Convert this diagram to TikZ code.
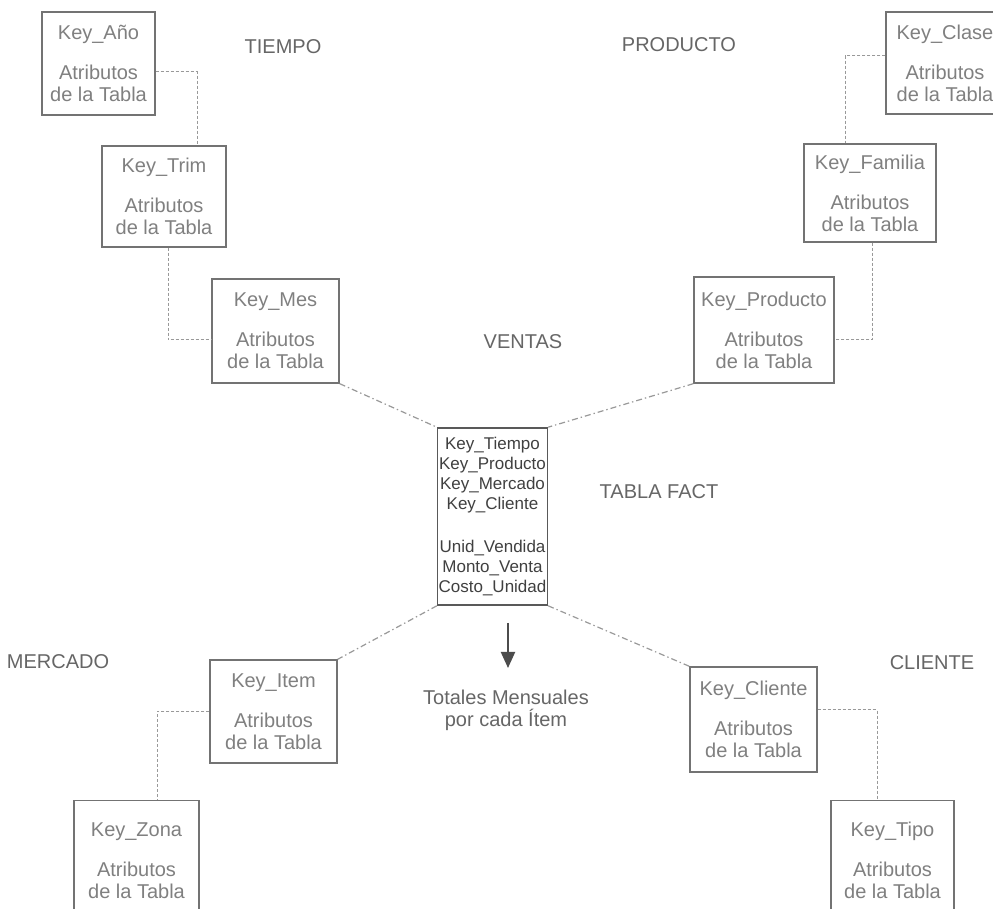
\documentclass[tikz,border=0pt]{standalone}
\usepackage{fontspec}
\setmainfont{Liberation Sans}
\usetikzlibrary{arrows.meta}

\begin{document}
\begin{tikzpicture}[
		x=0.5pt, y=-0.5pt,
		dimtab/.style={draw=black!55, line width=0.7pt, text=black!50, align=center,
				font=\fontsize{10}{11}\selectfont, minimum height=51.5pt, inner sep=1pt},
		facttab/.style={draw=black!65, line width=0.8pt, text=black!75, align=center,
				font=\fontsize{8.5}{10}\selectfont, minimum width=54.5pt, minimum height=88.5pt, inner sep=0.5pt},
		etiqueta/.style={text=black!60, font=\fontsize{10}{12}\selectfont},
		elbow/.style={draw=black!40, line width=0.5pt, dash pattern=on 1.5pt off 1pt},
		rayo/.style={draw=black!40, line width=0.6pt, dash pattern=on 3pt off 1.5pt on 0.7pt off 1.5pt}
	]
	\useasboundingbox (0,0) rectangle (993,909);
	\fill[white] (0,0) rectangle (993,909);

	% TIEMPO
	\node[dimtab, minimum width=56.5pt] (anio) at (98.5,63.5) {Key\_Año\\[9pt]Atributos\\de la Tabla};
	\node[dimtab, minimum width=62pt, minimum height=50.5pt] (trim) at (164,196.5) {Key\_Trim\\[9pt]Atributos\\de la Tabla};
	\node[dimtab, minimum width=63.5pt, minimum height=52pt] (mes) at (275.5,331) {Key\_Mes\\[9pt]Atributos\\de la Tabla};

	% PRODUCTO
	\node[dimtab, minimum width=70pt, minimum height=53pt] (prod) at (764,330) {Key\_Producto\\[9pt]Atributos\\de la Tabla};
	\node[dimtab, minimum width=66pt, minimum height=49pt] (fam) at (870,193) {Key\_Familia\\[9pt]Atributos\\de la Tabla};
	\node[dimtab, minimum width=59pt, minimum height=51pt] (clase) at (945,63) {Key\_Clase\\[9pt]Atributos\\de la Tabla};

	% TABLA FACT
	\node[facttab] (fact) at (492.5,516.5) {Key\_Tiempo\\Key\_Producto\\Key\_Mercado\\Key\_Cliente\\[11.5pt]Unid\_Vendida\\Monto\_Venta\\Costo\_Unidad};

	% MERCADO
	\node[dimtab, minimum width=63.5pt] (item) at (273.5,711.5) {Key\_Item\\[9pt]Atributos\\de la Tabla};
	\node[dimtab, minimum width=62.5pt, minimum height=60pt, anchor=north] (zona) at (136.5,800) {Key\_Zona\\[9pt]Atributos\\de la Tabla};

	% CLIENTE
	\node[dimtab, minimum width=63.5pt, minimum height=52.5pt] (cli) at (753.5,719.5) {Key\_Cliente\\[9pt]Atributos\\de la Tabla};
	\node[dimtab, minimum width=61.5pt, minimum height=60pt, anchor=north] (tipo) at (892.5,800) {Key\_Tipo\\[9pt]Atributos\\de la Tabla};

	% etiquetas
	\node[etiqueta] (tiempo) at (283,47) {TIEMPO};
	\node[etiqueta] (producto) at (679,45) {PRODUCTO};
	\node[etiqueta] (ventas) at (523,342) {VENTAS};
	\node[etiqueta] (tablafact) at (659,492) {TABLA FACT};
	\node[etiqueta] (mercado) at (58,662) {MERCADO};
	\node[etiqueta] (cliente) at (932,663) {CLIENTE};
	\node[etiqueta, align=center, font=\fontsize{10}{11}\selectfont] (totales) at (506,710) {Totales Mensuales\\por cada Ítem};

	% jerarquias
	\draw[elbow] ([yshift=-4.25pt]anio.east) -| ([xshift=16.5pt]trim.north);
	\draw[elbow] ([xshift=2pt]trim.south) |- ([yshift=-4.5pt]mes.west);
	\draw[elbow] ([yshift=3.5pt]clase.west) -| ([xshift=-12.5pt]fam.north);
	\draw[elbow] ([xshift=1pt]fam.south) |- ([yshift=-5pt]prod.east);
	\draw[elbow] (item.west) -| ([xshift=10.25pt]zona.north);
	\draw[elbow] ([yshift=4.75pt]cli.east) -| ([xshift=-7.75pt]tipo.north);

	% estrella
	\draw[rayo] (mes.south east) -- (fact.north west);
	\draw[rayo] (prod.south west) -- (fact.north east);
	\draw[rayo] (fact.south west) -- (item.north east);
	\draw[rayo] (fact.south east) -- (cli.north west);

	\coordinate (flechaini) at (508,623);
	\coordinate (flechafin) at (508,668);
	\draw[draw=black!70, line width=1pt, -{Triangle[width=7pt,length=8pt]}] (flechaini) -- (flechafin);
\end{tikzpicture}
\end{document}
